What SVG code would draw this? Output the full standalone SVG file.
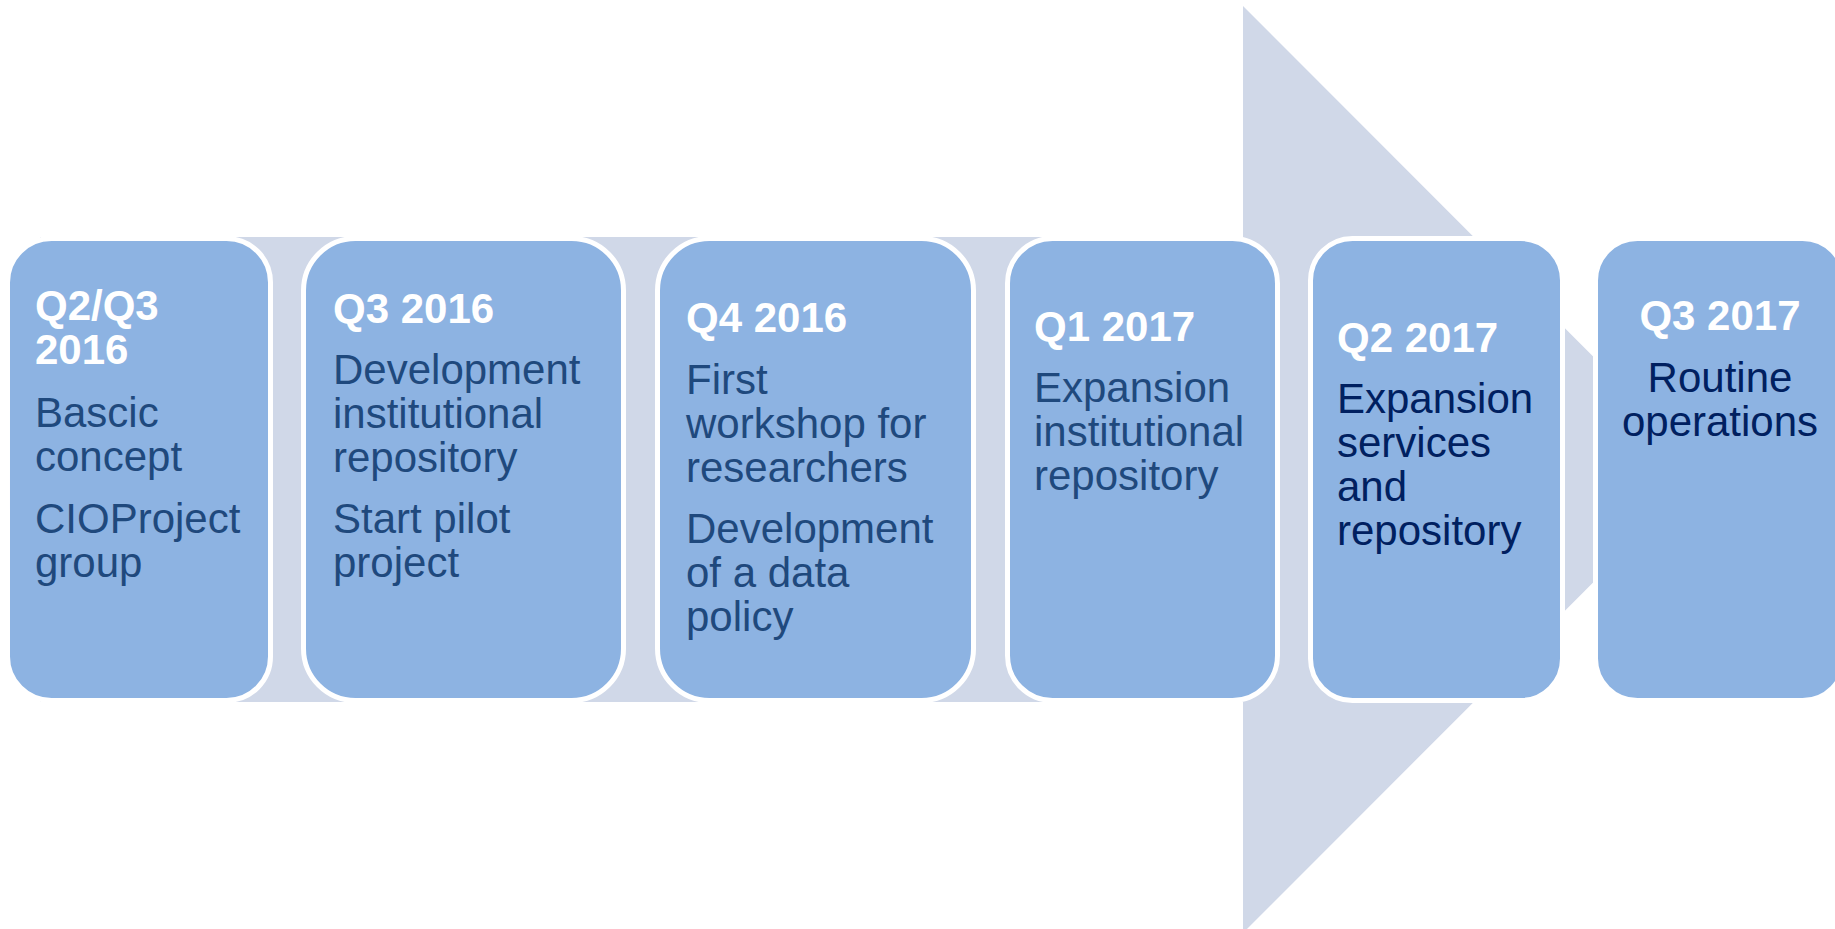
<svg xmlns="http://www.w3.org/2000/svg" width="1835" height="929" viewBox="0 0 1835 929">
<style>
.box{fill:#8DB3E2;stroke:#FFFFFF;stroke-width:5}
.hd{font-family:"Liberation Sans",Arial,sans-serif;font-size:42px;font-weight:bold;fill:#FFFFFF}
.tx{font-family:"Liberation Sans",Arial,sans-serif;font-size:42px;fill:#1F497D}
.tx2{font-family:"Liberation Sans",Arial,sans-serif;font-size:42px;fill:#002060}
</style>
<rect width="1835" height="929" fill="#FFFFFF"/>
<g id="background-arrow">
<polygon points="40,237 1243,237 1243,6 1706,469.5 1243,933 1243,702 40,702" fill="#D0D8E8"/>
</g>
<g id="node-q2q3-2016">
<rect class="box" x="7.5" y="238.5" width="263" height="462" rx="44" ry="44"/>
<text class="hd" x="35" y="320">Q2/Q3</text>
<text class="hd" x="35" y="364">2016</text>
<text class="tx" x="35" y="427">Bascic</text>
<text class="tx" x="35" y="471">concept</text>
<text class="tx" x="35" y="533">CIOProject</text>
<text class="tx" x="35" y="577">group</text>
</g>
<g id="node-q3-2016">
<rect class="box" x="303.5" y="238.5" width="320" height="462" rx="52" ry="52"/>
<text class="hd" x="333" y="323">Q3 2016</text>
<text class="tx" x="333" y="384">Development</text>
<text class="tx" x="333" y="428">institutional</text>
<text class="tx" x="333" y="472">repository</text>
<text class="tx" x="333" y="533">Start pilot</text>
<text class="tx" x="333" y="577">project</text>
</g>
<g id="node-q4-2016">
<rect class="box" x="657.5" y="238.5" width="316" height="462" rx="52" ry="52"/>
<text class="hd" x="686" y="332">Q4 2016</text>
<text class="tx" x="686" y="394">First</text>
<text class="tx" x="686" y="438">workshop for</text>
<text class="tx" x="686" y="482">researchers</text>
<text class="tx" x="686" y="543">Development</text>
<text class="tx" x="686" y="587">of a data</text>
<text class="tx" x="686" y="631">policy</text>
</g>
<g id="node-q1-2017">
<rect class="box" x="1007.5" y="238.5" width="270" height="462" rx="45" ry="45"/>
<text class="hd" x="1034" y="341">Q1 2017</text>
<text class="tx" x="1034" y="402">Expansion</text>
<text class="tx" x="1034" y="446">institutional</text>
<text class="tx" x="1034" y="490">repository</text>
</g>
<g id="node-q2-2017">
<rect class="box" x="1310.5" y="238.5" width="252" height="462" rx="42" ry="42"/>
<text class="hd" x="1337" y="352">Q2 2017</text>
<text class="tx2" x="1337" y="413">Expansion</text>
<text class="tx2" x="1337" y="457">services</text>
<text class="tx2" x="1337" y="501">and</text>
<text class="tx2" x="1337" y="545">repository</text>
</g>
<g id="node-q3-2017">
<rect class="box" x="1595.5" y="238.5" width="249" height="462" rx="42" ry="42"/>
<text class="hd" x="1720" y="330" text-anchor="middle">Q3 2017</text>
<text class="tx2" x="1720" y="392" text-anchor="middle">Routine</text>
<text class="tx2" x="1720" y="436" text-anchor="middle">operations</text>
</g>
<g id="connectors"></g>
</svg>
